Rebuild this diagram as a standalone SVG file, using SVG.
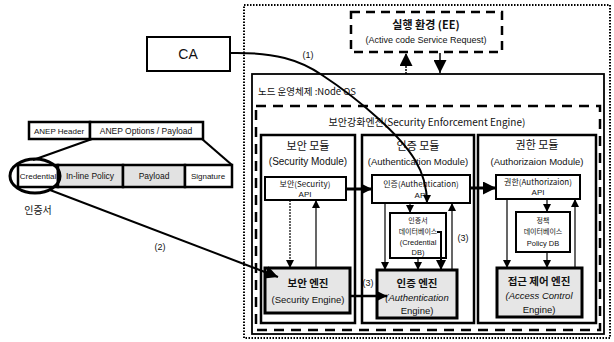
<svg xmlns="http://www.w3.org/2000/svg" width="614" height="342" viewBox="0 0 614 342">
<defs>
<marker id="ah" markerUnits="userSpaceOnUse" markerWidth="10" markerHeight="10" viewBox="0 0 10 10" refX="10" refY="5" orient="auto"><path d="M0,0 L10,5 L0,10 z" fill="#000"/></marker>
<marker id="ahs" markerUnits="userSpaceOnUse" markerWidth="8" markerHeight="8" viewBox="0 0 10 10" refX="10" refY="5" orient="auto"><path d="M0,0 L10,5 L0,10 z" fill="#000"/></marker>
<marker id="ahb" markerUnits="userSpaceOnUse" markerWidth="13" markerHeight="13" viewBox="0 0 10 10" refX="10" refY="5" orient="auto"><path d="M0,0 L10,5 L0,10 z" fill="#000"/></marker>
</defs>
<style>
text{font-family:"Liberation Sans","Noto Sans CJK KR",sans-serif;fill:#111;text-anchor:middle}
.k{font-family:"Noto Sans CJK KR","Liberation Sans",sans-serif}
.box{fill:#fff;stroke:#000;stroke-width:2}
.mod{fill:#fff;stroke:#000;stroke-width:2.5}
.eng{fill:#e6e6e6;stroke:#000;stroke-width:3}
.gray{fill:#e2e2e2;stroke:#000;stroke-width:2.5}
.pk{fill:#fff;stroke:#000;stroke-width:2.5}
.ln{fill:none;stroke:#000;stroke-width:1.2}
.th{fill:none;stroke:#000;stroke-width:2.2}
</style>
<g id="outer"><rect x="244" y="5" width="366" height="333" fill="none" stroke="#000" stroke-width="2" stroke-dasharray="1.5,1.5"/></g>
<g id="ee"><rect x="351" y="12" width="151" height="40" fill="#fff" stroke="#000" stroke-width="2.5" stroke-dasharray="9,6"/>
<text x="426" y="29" class="k" font-size="11" font-weight="bold">실행 환경 (EE)</text>
<text x="426" y="43" font-size="9">(Active code Service Request)</text></g>
<g id="ca"><rect x="147" y="37" width="83" height="34" class="box"/><text x="188" y="59" font-size="14">CA</text></g>
<g id="nodeos"><rect x="252" y="74" width="352" height="260" fill="none" stroke="#000" stroke-width="1.8"/>
<text x="258" y="95" class="k" font-size="9.5" style="text-anchor:start">노드 운영체제 :Node OS</text></g>
<g id="see"><rect x="256" y="106" width="344" height="224" fill="none" stroke="#000" stroke-width="2.5" stroke-dasharray="10,7"/>
<text x="427" y="126" class="k" font-size="10">보안강화엔진(Security Enforcement Engine)</text></g>
<g id="secmod"><rect x="261" y="135" width="94" height="188" class="mod"/>
<text x="308" y="150" class="k" font-size="11">보안 모듈</text>
<text x="308" y="165" font-size="10">(Security Module)</text></g>
<g id="secapi"><rect x="265" y="177" width="81" height="23" class="box" stroke-width="2.5"/>
<text x="305" y="187" class="k" font-size="8">보안(Security)</text><text x="305" y="197" font-size="8">API</text></g>
<g id="seceng"><rect x="265" y="268" width="85" height="45" class="eng"/>
<text x="308" y="287" class="k" font-size="10.5" font-weight="bold">보안 엔진</text>
<text x="308" y="303" font-size="9.5">(Security Engine)</text></g>
<g id="authmod"><rect x="362" y="135" width="112" height="188" class="mod"/>
<text x="418" y="150" class="k" font-size="11">인증 모듈</text>
<text x="418" y="165" font-size="9.5">(Authentication Module)</text></g>
<g id="authapi"><rect x="372" y="175" width="98" height="28" class="box" stroke-width="2.5"/>
<text x="421" y="187" class="k" font-size="8">인증(Authentication)</text><text x="421" y="198" font-size="8">API</text></g>
<g id="creddb"><rect x="390" y="213" width="56" height="45" class="box" stroke-width="2.5"/>
<text x="418" y="223" class="k" font-size="7">인증서</text><text x="418" y="234" class="k" font-size="7">데이터베이스</text>
<text x="418" y="245" font-size="7.5">(Credential</text><text x="418" y="255" font-size="7.5">DB)</text></g>
<g id="autheng"><rect x="377" y="270" width="80" height="48" class="eng"/>
<text x="417" y="287" class="k" font-size="10.5" font-weight="bold">인증 엔진</text>
<text x="417" y="301" font-size="9.5" font-style="italic">(Authentication</text>
<text x="417" y="314" font-size="9.5">Engine)</text></g>
<g id="authzmod"><rect x="478" y="135" width="118" height="188" class="mod"/>
<text x="537" y="149" class="k" font-size="11">권한 모듈</text>
<text x="537" y="165" font-size="9.5">(Authorizaion Module)</text></g>
<g id="authzapi"><rect x="496" y="175" width="84" height="24" class="box" stroke-width="2.5"/>
<text x="538" y="185" class="k" font-size="8">권한(Authorizaion)</text><text x="538" y="195" font-size="8">API</text></g>
<g id="policydb"><rect x="516" y="212" width="54" height="40" class="box" stroke-width="2.5"/>
<text x="543" y="223" class="k" font-size="7">정책</text><text x="543" y="234" class="k" font-size="7">데이터베이스</text>
<text x="543" y="246" font-size="7.5">Policy DB</text></g>
<g id="aceng"><rect x="497" y="268" width="85" height="49" class="eng"/>
<text x="539" y="285" class="k" font-size="10.5" font-weight="bold">접근 제어 엔진</text>
<text x="539" y="299" font-size="9.5" font-style="italic">(Access Control</text>
<text x="539" y="313" font-size="9.5">Engine)</text></g>
<g id="packet">
<rect x="29" y="122" width="61" height="17" class="pk"/><text x="59" y="134" font-size="8">ANEP Header</text>
<rect x="90" y="122" width="113" height="17" class="pk"/><text x="146" y="134" font-size="8.5">ANEP Options / Payload</text>
<rect x="18" y="165" width="40" height="22" class="pk"/><text x="38" y="179" font-size="8">Credential</text>
<rect x="58" y="165" width="65" height="22" class="gray"/><text x="90" y="179" font-size="8.5">In-line Policy</text>
<rect x="123" y="165" width="62" height="22" class="gray"/><text x="154" y="179" font-size="8.5">Payload</text>
<rect x="185" y="165" width="47" height="22" class="pk"/><text x="208" y="179" font-size="8">Signature</text>
<line x1="92" y1="139" x2="33" y2="160" class="th"/>
<line x1="202" y1="139" x2="232" y2="165" class="th"/>
<ellipse cx="35" cy="176" rx="25" ry="17" fill="none" stroke="#000" stroke-width="3"/>
<text x="38" y="214" class="k" font-size="10">인증서</text>
</g>
<g id="connectors">
<path d="M230,53 C275,52 300,60 322,75 C360,100 400,135 415,160 C424,175 427,188 427,203" fill="none" stroke="#000" stroke-width="2" marker-end="url(#ahs)"/>
<text x="308" y="58" font-size="9">(1)</text>
<path d="M50,190 Q180,240 278,277" fill="none" stroke="#000" stroke-width="2" marker-end="url(#ahb)"/>
<text x="160" y="250" font-size="9">(2)</text>
<line x1="406" y1="74" x2="406" y2="53" stroke="#000" stroke-width="1.5" stroke-dasharray="2,1" marker-end="url(#ahb)"/>
<line x1="440" y1="53" x2="440" y2="73" stroke="#000" stroke-width="1.5" marker-end="url(#ahb)"/>
<line x1="346" y1="189" x2="372" y2="189" stroke="#000" stroke-width="3" marker-end="url(#ah)"/>
<line x1="470" y1="188" x2="496" y2="188" stroke="#000" stroke-width="3" marker-end="url(#ahb)"/>
<line x1="350" y1="296" x2="387" y2="296" stroke="#000" stroke-width="2.5" marker-end="url(#ah)"/>
<text x="368" y="286" font-size="9">(3)</text>
<line x1="290" y1="200" x2="290" y2="268" class="ln" stroke-dasharray="2,1" marker-end="url(#ahs)"/>
<line x1="316" y1="268" x2="316" y2="200" class="ln" marker-end="url(#ahs)"/>
<line x1="385" y1="203" x2="385" y2="270" class="ln" marker-end="url(#ahs)"/>
<line x1="410" y1="203" x2="410" y2="213" class="ln" marker-end="url(#ahs)"/>
<line x1="418" y1="258" x2="418" y2="270" class="ln" marker-end="url(#ahs)"/>
<path d="M437,232 L441,232 L441,270" fill="none" stroke="#000" stroke-width="2" marker-end="url(#ah)"/>
<line x1="452" y1="270" x2="452" y2="203" class="ln" marker-end="url(#ahs)"/>
<text x="463" y="241" font-size="9">(3)</text>
<line x1="507" y1="199" x2="507" y2="268" class="ln" marker-end="url(#ahs)"/>
<line x1="547" y1="199" x2="547" y2="212" class="ln" marker-end="url(#ahs)"/>
<line x1="547" y1="252" x2="547" y2="268" class="ln" marker-end="url(#ahs)"/>
<line x1="575" y1="268" x2="575" y2="199" class="ln" marker-end="url(#ahs)"/>
</g>
</svg>
